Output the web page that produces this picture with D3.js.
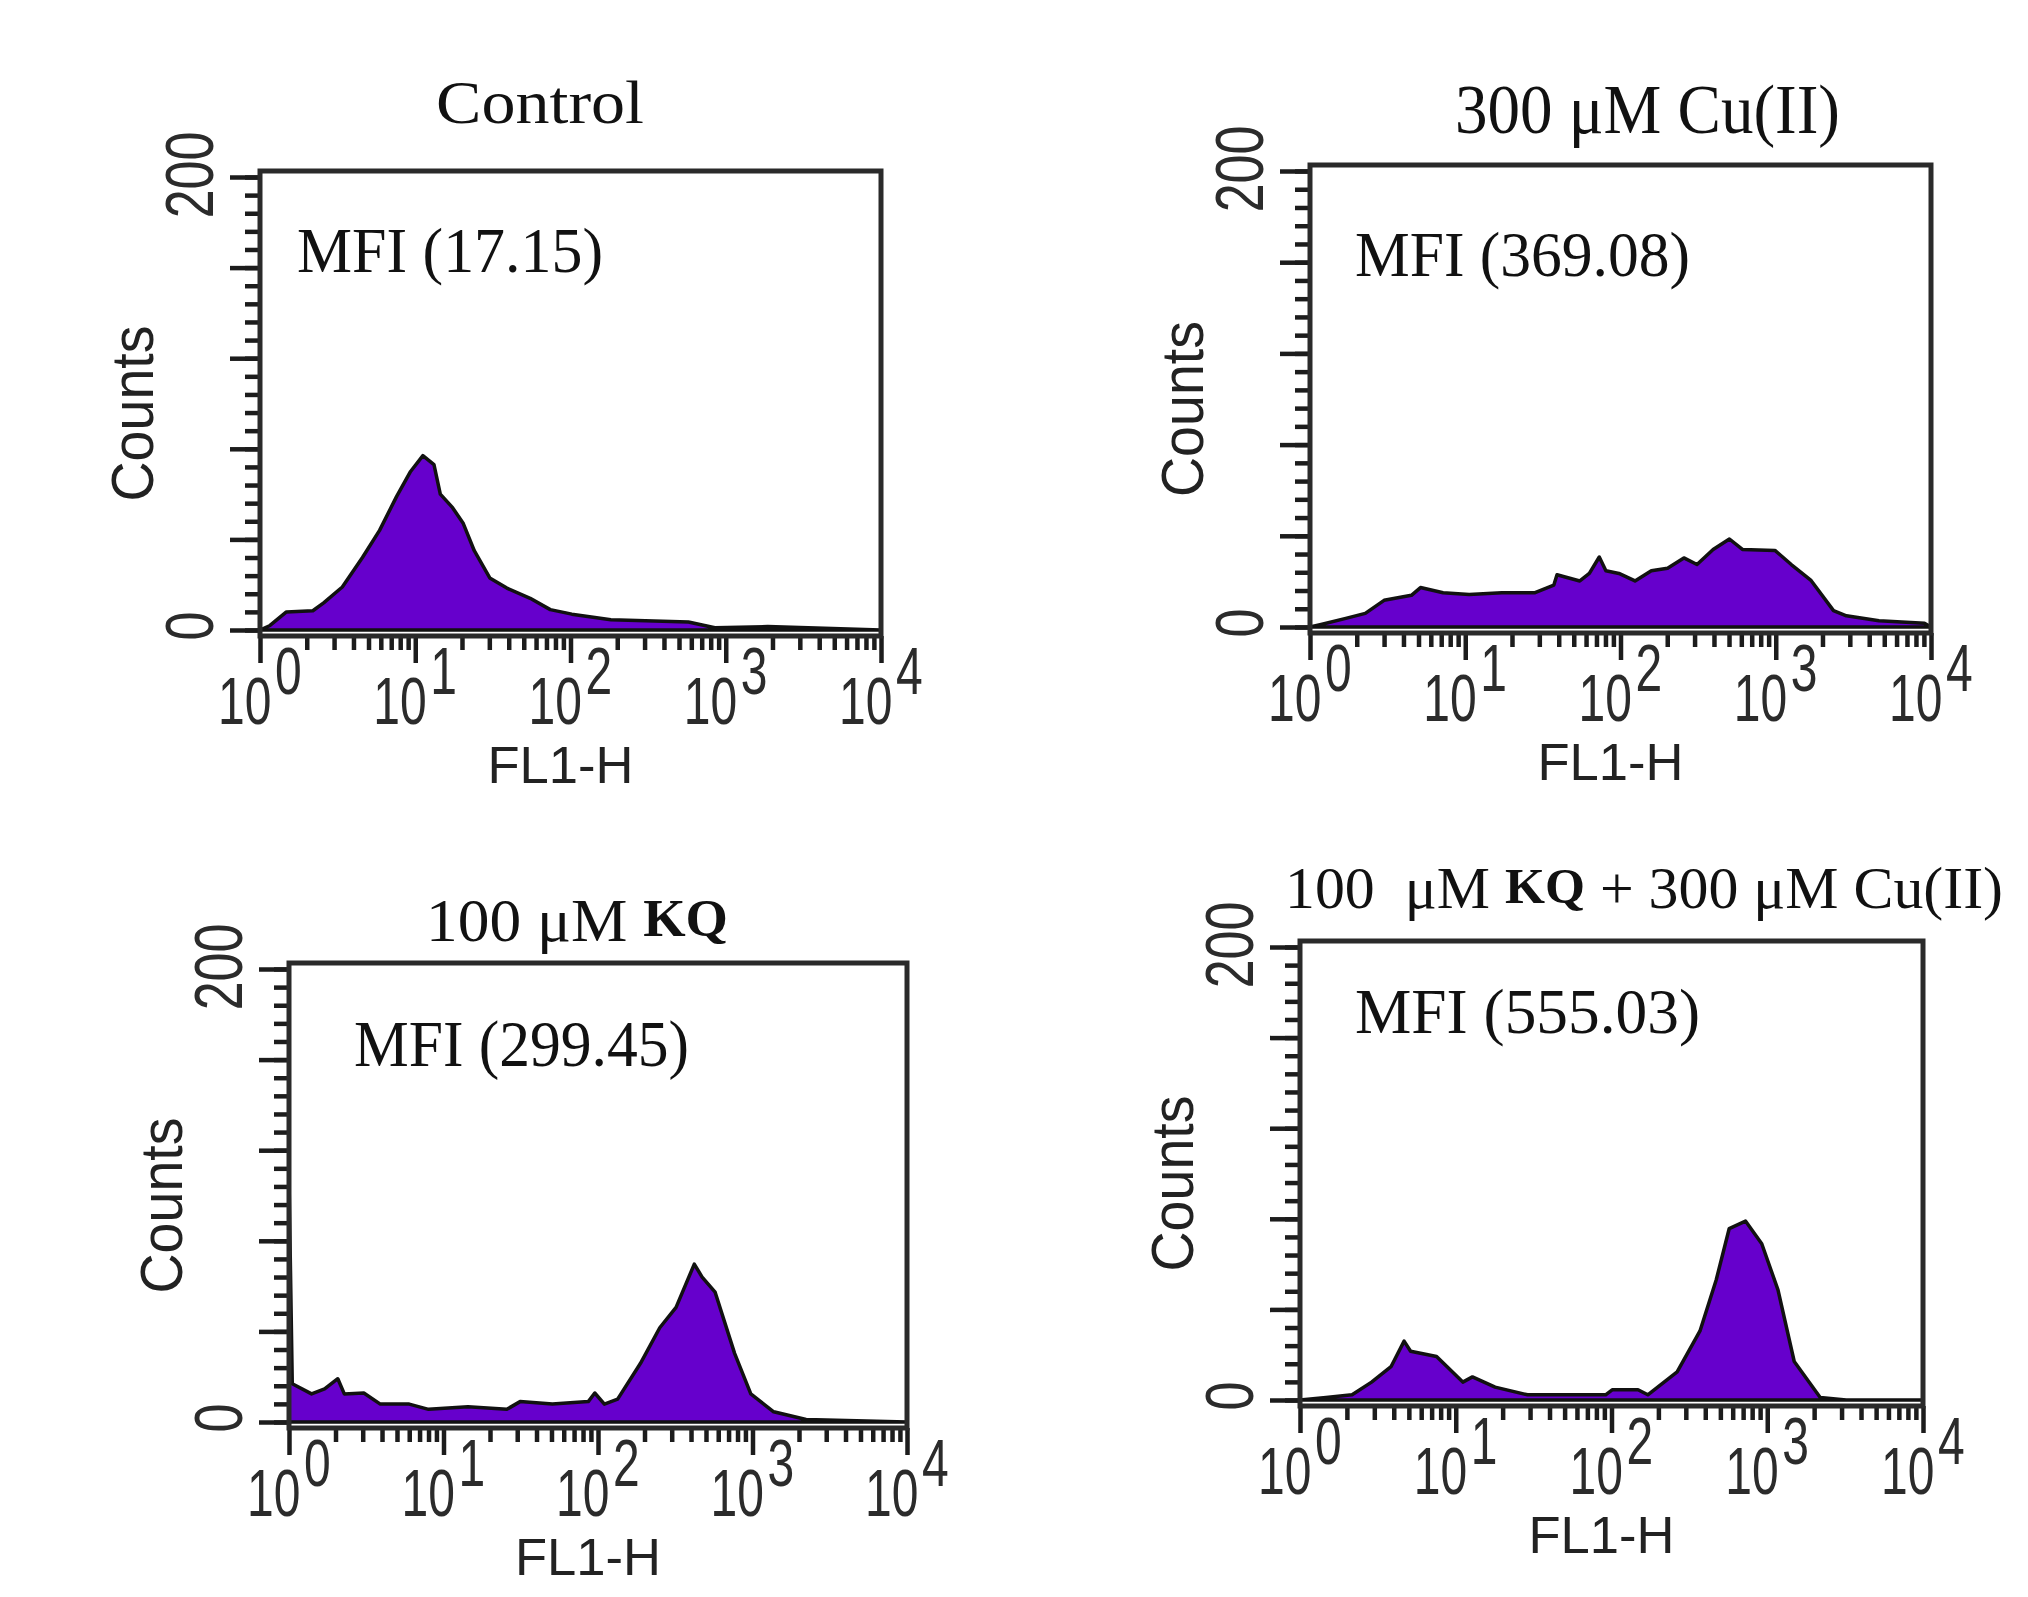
<!DOCTYPE html>
<html>
<head>
<meta charset="utf-8">
<script src="https://cdn.jsdelivr.net/npm/d3@7"></script>
<style>
  body { margin: 0; background: #fff; }
  svg { display: block; }
</style>
</head>
<body>
<div id="chart"></div>
<script>
// panel titles and MFI values
const titles = ["Control", "300 \u03bcM Cu(II)", "100 \u03bcM KQ", "100  \u03bcM KQ + 300 \u03bcM Cu(II)"];
const mfiLabels = ["MFI (17.15)", "MFI (369.08)", "MFI (299.45)", "MFI (555.03)"];

// histograms: FL1-H channel value and counts
const controlFL1 = [1, 1.16, 1.48, 2.19, 2.57, 3.39, 4.57, 5.89, 7.59, 9.33, 11.2, 13.2, 14.5, 17.4, 20.4, 24, 30.2, 38.9, 55, 74.1, 102, 182, 575, 851, 1862, 10000];
const controlCounts = [0, 2, 8, 8.5, 12, 19, 32, 44, 59, 70, 77, 73, 60, 54, 47, 35, 23, 18.5, 14, 9, 7, 4.5, 3.5, 1, 1.5, 0];

const cuFL1 = [1, 1.16, 1.7, 2.27, 3.0, 4.5, 5.15, 7.2, 10.6, 17.2, 27.9, 37.2, 39, 54.7, 63, 73, 80.5, 97.7, 124, 158, 201, 256, 311, 395, 503, 610, 988, 1259, 1679, 2355, 2851, 4624, 9080, 10000];
const cuCounts = [0, 1, 3.8, 6, 11.7, 13.9, 17.3, 15, 14.3, 15, 15, 18.4, 22.9, 20.2, 23.5, 30.7, 24.7, 23.5, 20.2, 24.7, 25.8, 30.3, 27.4, 34, 38.6, 34, 33.6, 27.4, 20.6, 7.2, 4.9, 2.7, 1.6, 0];

const kqFL1 = [1, 1.05, 1.4, 1.7, 2.07, 2.28, 3.05, 3.9, 6.0, 8.0, 14.4, 25.7, 31.3, 50.7, 86.5, 95.3, 110, 134, 188, 251, 320, 420, 472, 573, 766, 975, 1371, 2223, 10000];
const kqCounts = [108, 16.9, 12.4, 14.6, 19.1, 12.4, 12.8, 7.9, 7.9, 5.6, 6.7, 5.6, 9, 7.9, 9, 12.8, 7.9, 10.1, 25.8, 41.6, 50.6, 69.7, 64, 57.3, 30.3, 12.4, 4.5, 1.1, 0];

const kqCuFL1 = [1, 1.47, 2.16, 2.88, 3.84, 4.66, 5.13, 7.53, 11.1, 12.8, 17.9, 28.9, 51.5, 91.7, 101, 148, 171, 264, 370, 470, 570, 725, 922, 1172, 1490, 2188, 3214, 10000];
const kqCuCounts = [0, 1.1, 2.3, 7.9, 14.7, 26, 21.5, 19.2, 7.9, 10.2, 5.7, 2.3, 2.3, 2.3, 4.5, 4.5, 2.3, 12.4, 30.5, 53, 75.7, 79, 69, 48.6, 17, 1.1, 0, 0];

const seriesFL1 = [controlFL1, cuFL1, kqFL1, kqCuFL1];
const seriesCounts = [controlCounts, cuCounts, kqCounts, kqCuCounts];

// axes
const xDomain = [1, 10000];
const xMajorTicks = [1, 10, 100, 1000, 10000];
const xMinorTicks = [2, 3, 4, 5, 6, 7, 8, 9, 20, 30, 40, 50, 60, 70, 80, 90, 200, 300, 400, 500, 600, 700, 800, 900, 2000, 3000, 4000, 5000, 6000, 7000, 8000, 9000];
const yDomain = [0, 200];
const yLabelTicks = [0, 200];
const yMajorTicks = [0, 40, 80, 120, 160, 200];
const yMinorTicks = d3.range(0, 201, 8);
const xTitle = "FL1-H";
const yTitle = "Counts";

// where each panel sits on the page
const layout = [
  {left: 260, top: 171, right: 881, bottom: 636, tx: 436, ty: 123, tSize: 62, tLen: 208, mx: 297, my: 272, mSize: 63, mLen: 306},
  {left: 1310, top: 165, right: 1931, bottom: 633, tx: 1455, ty: 133, tSize: 70, tLen: 385, mx: 1355, my: 276, mSize: 63, mLen: 335},
  {left: 289, top: 963, right: 907, bottom: 1428, tx: 426, ty: 941, tSize: 62, tLen: 302, mx: 354, my: 1066, mSize: 66, mLen: 335},
  {left: 1300, top: 941, right: 1923, bottom: 1406, tx: 1285, ty: 908, tSize: 60, tLen: 718, mx: 1355, my: 1033, mSize: 64, mLen: 345}
];

const width = 2028, height = 1597;
const serif = "'Liberation Serif', 'Times New Roman', serif";
const sans = "'Liberation Sans', Arial, sans-serif";
const ink = "#1c1c1c";

const svg = d3.select("#chart").append("svg")
    .attr("width", width)
    .attr("height", height)
    .attr("viewBox", [0, 0, width, height]);

svg.append("rect").attr("width", width).attr("height", height).attr("fill", "#fff");

layout.forEach((p, i) => {
  const x = d3.scaleLog().domain(xDomain).range([p.left, p.right]);
  const y = d3.scaleLinear().domain(yDomain).range([p.bottom - 6, p.top + 6]);
  const g = svg.append("g");

  const data = seriesFL1[i].map((v, j) => ({v: v, c: seriesCounts[i][j]}));

  const area = d3.area()
      .x(d => x(d.v))
      .y0(y(0))
      .y1(d => y(d.c));

  g.append("path")
      .datum(data)
      .attr("fill", "#6600cc")
      .attr("stroke", "#111")
      .attr("stroke-width", 3.5)
      .attr("stroke-linejoin", "round")
      .attr("d", area);

  // y ticks (outside, left)
  const yMinor = g.append("g")
      .attr("transform", `translate(${p.left},0)`)
      .call(d3.axisLeft(y).tickValues(yMinorTicks).tickSize(15).tickFormat(""));
  const yMajor = g.append("g")
      .attr("transform", `translate(${p.left},0)`)
      .call(d3.axisLeft(y).tickValues(yMajorTicks).tickSize(30).tickFormat(""));

  // x ticks (outside, below)
  const xMinor = g.append("g")
      .attr("transform", `translate(0,${p.bottom})`)
      .call(d3.axisBottom(x).tickValues(xMinorTicks).tickSize(14).tickFormat(""));
  const xMajor = g.append("g")
      .attr("transform", `translate(0,${p.bottom})`)
      .call(d3.axisBottom(x).tickValues(xMajorTicks).tickSize(27).tickFormat(""));

  [yMinor, yMajor, xMinor, xMajor].forEach(a => {
    a.select(".domain").remove();
    a.selectAll("line").attr("stroke", ink).attr("stroke-width", 4.5);
  });

  // frame
  g.append("rect")
      .attr("x", p.left)
      .attr("y", p.top)
      .attr("width", p.right - p.left)
      .attr("height", p.bottom - p.top)
      .attr("fill", "none")
      .attr("stroke", "#2a2a2a")
      .attr("stroke-width", 5);

  // y tick labels, rotated and drawn narrow
  g.selectAll(".ylab")
    .data(yLabelTicks)
    .join("text")
      .attr("transform", d => `translate(${p.left - 47},${y(d) + (d === 0 ? -4 : -2)}) rotate(-90) scale(1,1.3)`)
      .attr("text-anchor", "middle")
      .attr("font-family", sans)
      .attr("font-size", 52)
      .attr("fill", "#2b2b2b")
      .text(d => d);

  // x tick labels 10^n: narrow digits, stretched upward
  const base0 = y(0) + 94;
  const xl = g.selectAll(".xlab")
    .data(xMajorTicks)
    .join("g")
      .attr("transform", d => `translate(${x(d)},${base0}) scale(1,1.38)`)
      .attr("font-family", sans)
      .attr("font-size", 48)
      .attr("fill", "#2b2b2b");
  xl.append("text")
      .attr("x", -42)
      .attr("y", 0)
      .text("10");
  xl.append("text")
      .attr("x", 15)
      .attr("y", -22)
      .text(d => Math.round(Math.log10(d)));

  // axis titles
  g.append("text")
      .attr("x", (p.left + p.right) / 2 - 10)
      .attr("y", y(0) + 153)
      .attr("text-anchor", "middle")
      .attr("font-family", sans)
      .attr("font-size", 51)
      .attr("fill", "#222")
      .attr("textLength", 146)
      .attr("lengthAdjust", "spacingAndGlyphs")
      .text(xTitle);

  g.append("text")
      .attr("transform", `translate(${p.left - 107},${(p.top + p.bottom) / 2 + 10}) rotate(-90)`)
      .attr("text-anchor", "middle")
      .attr("font-family", sans)
      .attr("font-size", 60)
      .attr("fill", "#222")
      .attr("textLength", 176)
      .attr("lengthAdjust", "spacingAndGlyphs")
      .text(yTitle);

  // MFI label
  g.append("text")
      .attr("x", p.mx)
      .attr("y", p.my)
      .attr("font-family", serif)
      .attr("font-size", p.mSize)
      .attr("fill", "#111")
      .attr("textLength", p.mLen)
      .attr("lengthAdjust", "spacingAndGlyphs")
      .text(mfiLabels[i]);

  // panel title; "KQ" is set bold and a little smaller
  const t = g.append("text")
      .attr("x", p.tx)
      .attr("y", p.ty)
      .attr("font-family", serif)
      .attr("font-size", p.tSize)
      .attr("fill", "#111")
      .attr("textLength", p.tLen)
      .attr("lengthAdjust", "spacingAndGlyphs")
      .style("white-space", "pre");
  titles[i].split(/(KQ)/).filter(s => s.length).forEach(s => {
    const ts = t.append("tspan").text(s);
    if (s === "KQ") {
      ts.attr("font-weight", "bold").attr("font-size", p.tSize * 0.86).attr("dy", -5);
    } else if (t.selectAll("tspan").size() > 1) {
      ts.attr("dy", 5);
    }
  });
});
</script>
</body>
</html>
